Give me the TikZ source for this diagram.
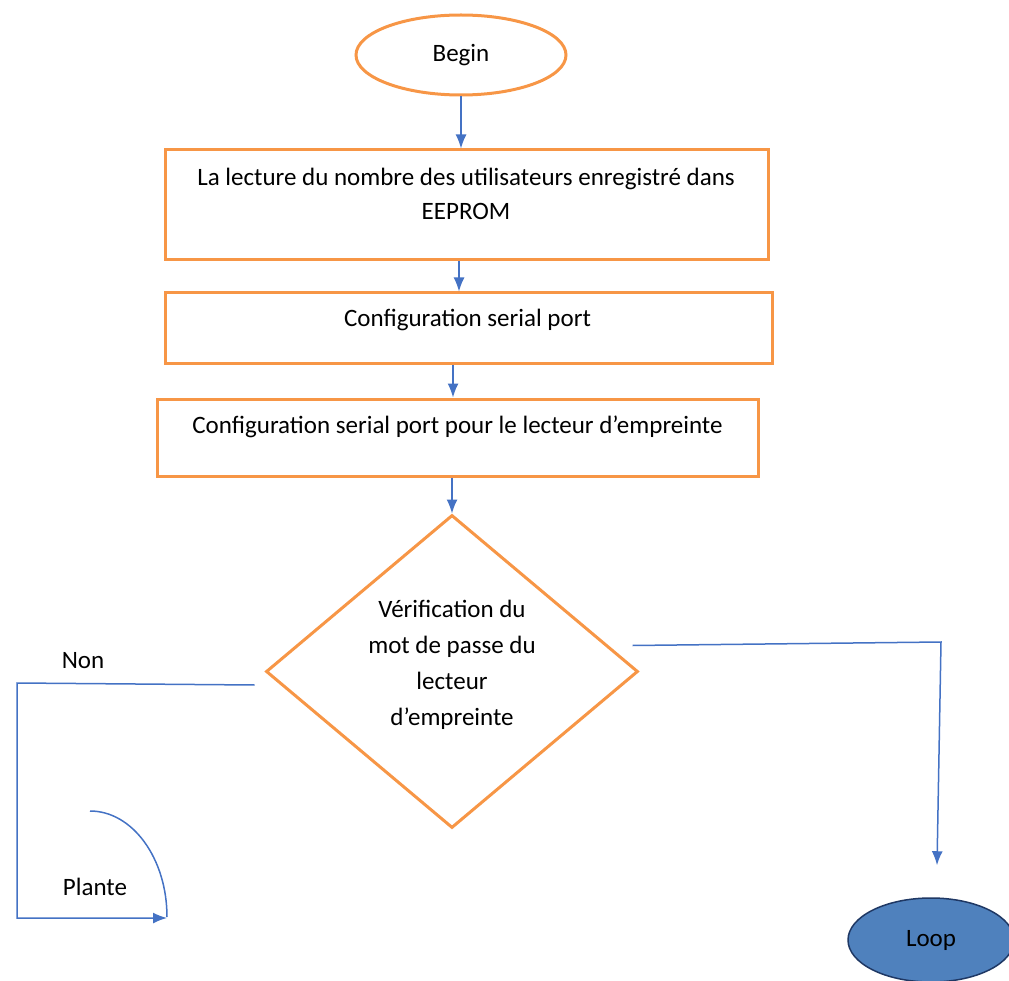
\documentclass[tikz,border=0pt]{standalone}
\usepackage{fontspec}
\setmainfont{Carlito}
\usetikzlibrary{arrows.meta,shapes.geometric}

\begin{document}
\begin{tikzpicture}[x=1pt,y=1pt,yscale=-1,xscale=1,
  orangebox/.style={draw={rgb, 255:red, 247; green, 150; blue, 70},line width=3pt,inner sep=0pt},
  blueline/.style={draw={rgb, 255:red, 68; green, 114; blue, 196},line width=1.5pt},
  bluearrow/.style={blueline,-{Latex[length=14pt,width=11pt]}},
  txt/.style={inner sep=0.75pt,font=\fontsize{25}{34}\selectfont,align=center}]
\useasboundingbox (0,0) rectangle (1009,981);

%Shape: Ellipse [begin]
\node [orangebox,ellipse,minimum width=210,minimum height=80,txt] (begin) at (461,55) {Begin};
%Shape: Rectangle [box1]
\node [orangebox,minimum width=603,minimum height=110] (box1) at (466.5,205) {};
%Shape: Rectangle [box2]
\node [orangebox,minimum width=607,minimum height=71] (box2) at (468.5,328.5) {};
%Shape: Rectangle [box3]
\node [orangebox,minimum width=601,minimum height=77] (box3) at (457.5,437.5) {};
%Shape: Diamond [diam]
\node [orangebox,diamond,minimum width=372,minimum height=313] (diam) at (452,671.5) {};
%Shape: Ellipse [loop]
\node [ellipse,draw={rgb, 255:red, 31; green, 56; blue, 100},line width=1.5pt,
  fill={rgb, 255:red, 79; green, 129; blue, 189},minimum width=166,minimum height=84,txt] (loop) at (931,940) {Loop};

% Text Node
\node [txt] (t1) at (466,194) {La lecture du nombre des utilisateurs enregistré dans\\EEPROM};
% Text Node
\node [txt] (t2) at (467.5,320) {Configuration serial port};
% Text Node
\node [txt] (t3) at (457.5,427) {Configuration serial port pour le lecteur d’empreinte};
% Text Node
\node [txt,font=\fontsize{25}{36}\selectfont] (t4) at (452,664.5) {Vérification du\\mot de passe du\\lecteur\\d’empreinte};
% Text Node
\node [txt] (non) at (83,661) {Non};
% Text Node
\node [txt] (plante) at (95,887) {Plante};

%Straight Lines [arrows down]
\draw [bluearrow] (begin.south) -- (begin.south |- box1.north);
\draw [bluearrow] ([xshift=-7.5pt]box1.south) -- ([xshift=-9.5pt]box2.north);
\draw [bluearrow] ([xshift=-15.5pt]box2.south) -- ([xshift=-15.5pt]box2.south |- box3.north);
\draw [bluearrow] (box3.south -| diam.north) -- (diam.north);

%Straight Lines [Non branch]
\coordinate (nonB) at (17,683);
\coordinate (nonC) at (17,918);
\coordinate (planteIn) at (167,918);
\draw [bluearrow] ([xshift=-10pt,yshift=13.5pt]diam.west) -- (nonB) -- (nonC) -- (planteIn);
%Shape: Arc
\draw [blueline] (90,811) arc [start angle=-90,end angle=0,x radius=77,y radius=106];

%Straight Lines [Loop branch]
\coordinate (loopB) at (941,642);
\coordinate (loopIn) at ([xshift=6pt,yshift=-32pt]loop.north);
\draw [bluearrow] ([xshift=-7pt,yshift=-26pt]diam.east) -- (loopB) -- (loopIn);
\end{tikzpicture}
\end{document}
